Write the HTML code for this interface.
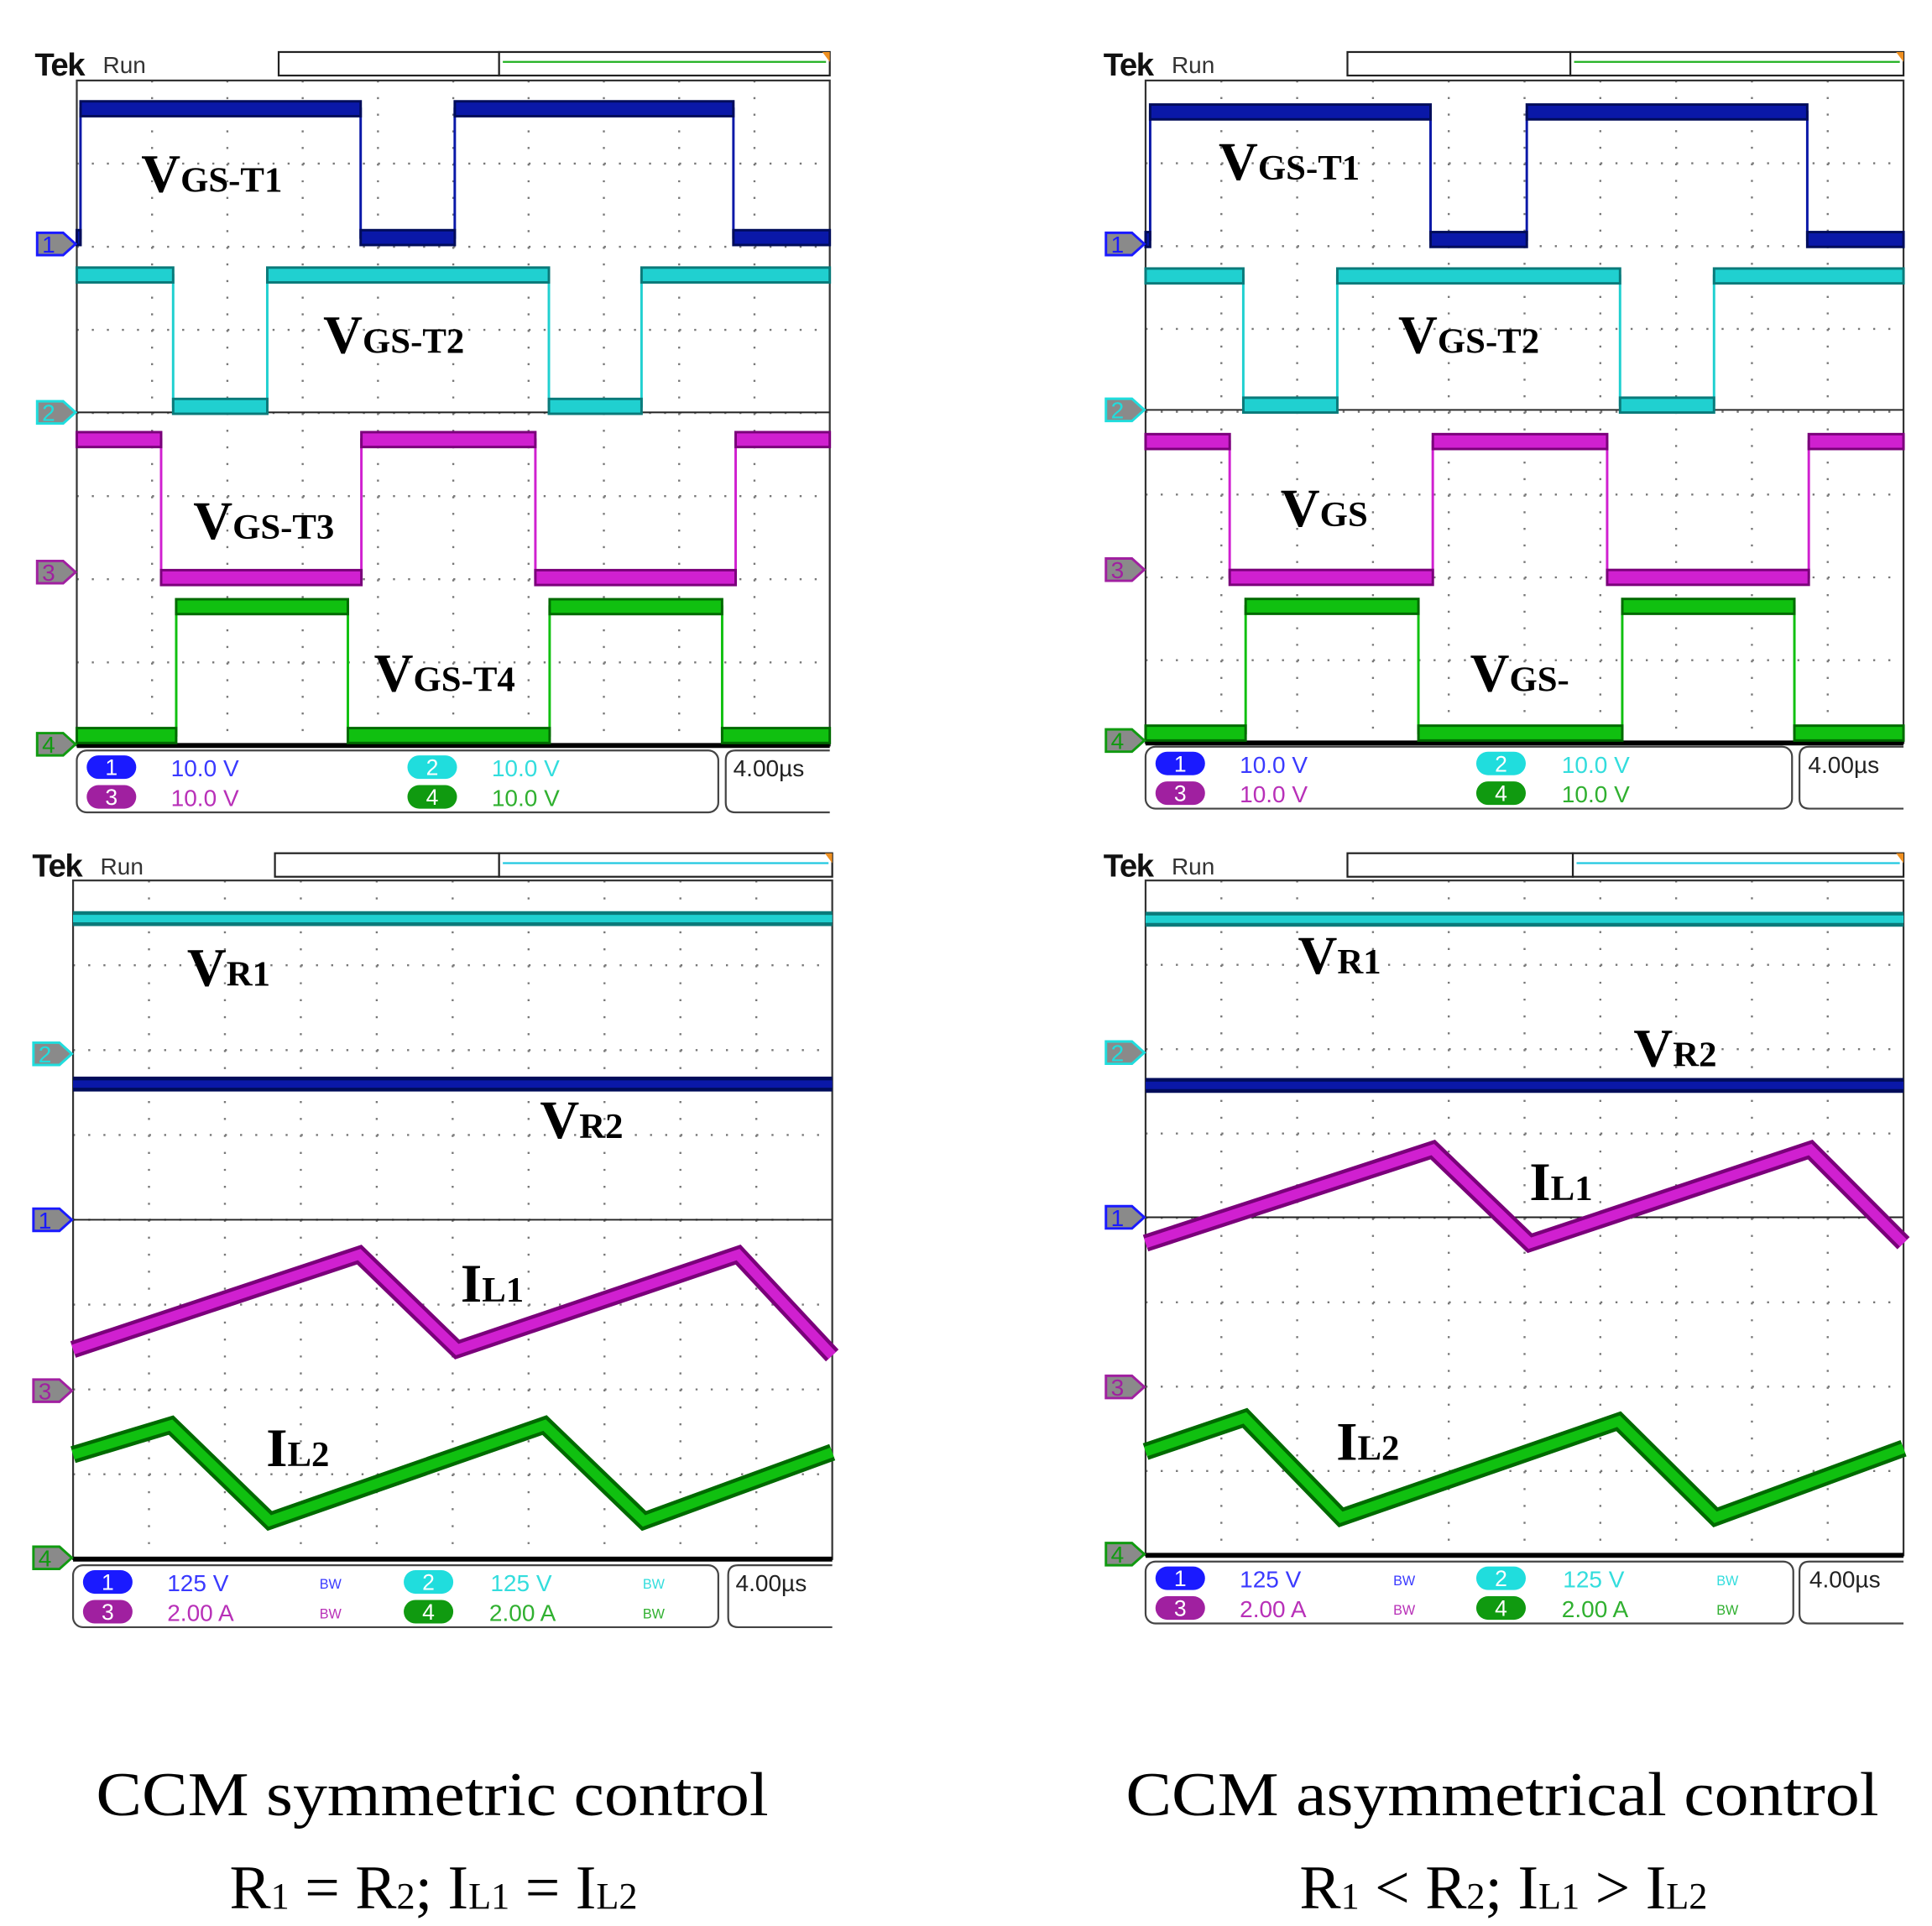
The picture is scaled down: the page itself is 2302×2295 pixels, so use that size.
<!DOCTYPE html>
<html><head><meta charset="utf-8">
<style>
html,body{margin:0;padding:0;background:#fff;}
svg{display:block;}
.tek{font-family:"Liberation Sans",sans-serif;font-weight:bold;font-size:26px;fill:#111;letter-spacing:-1px;}
.run{font-family:"Liberation Sans",sans-serif;font-size:19px;fill:#333;}
.lbl{font-family:"Liberation Serif",serif;font-weight:bold;fill:#000;}
.leg{font-family:"Liberation Sans",sans-serif;font-size:19px;}
.bw{font-family:"Liberation Sans",sans-serif;}
.cap{font-family:"Liberation Serif",serif;font-size:50px;fill:#000;}
</style></head>
<body>
<svg id="fig" width="2302" height="2295" viewBox="0 0 1560 1555.3" preserveAspectRatio="none" xmlns="http://www.w3.org/2000/svg">
<g id="layer-traces"></g>
<g>
 <text class="tek" x="28" y="61">Tek</text><text class="run" x="83" y="59">Run</text>
 <text class="lbl" x="114" y="155"><tspan font-size="44">V</tspan><tspan font-size="29">GS-T1</tspan></text>
 <text class="lbl" x="261" y="285"><tspan font-size="44">V</tspan><tspan font-size="29">GS-T2</tspan></text>
 <text class="lbl" x="156" y="435"><tspan font-size="44">V</tspan><tspan font-size="29">GS-T3</tspan></text>
 <text class="lbl" x="302" y="558"><tspan font-size="44">V</tspan><tspan font-size="29">GS-T4</tspan></text>
 <text class="tek" x="891" y="61">Tek</text><text class="run" x="946" y="59">Run</text>
 <text class="lbl" x="984" y="145"><tspan font-size="44">V</tspan><tspan font-size="29">GS-T1</tspan></text>
 <text class="lbl" x="1129" y="285"><tspan font-size="44">V</tspan><tspan font-size="29">GS-T2</tspan></text>
 <text class="lbl" x="1034" y="425"><tspan font-size="44">V</tspan><tspan font-size="29">GS</tspan></text>
 <text class="lbl" x="1187" y="558"><tspan font-size="44">V</tspan><tspan font-size="29">GS-</tspan></text>
 <text class="tek" x="26" y="708">Tek</text><text class="run" x="81" y="706">Run</text>
 <text class="lbl" x="151" y="796"><tspan font-size="44">V</tspan><tspan font-size="29">R1</tspan></text>
 <text class="lbl" x="436" y="919"><tspan font-size="44">V</tspan><tspan font-size="29">R2</tspan></text>
 <text class="lbl" x="372" y="1051"><tspan font-size="44">I</tspan><tspan font-size="29">L1</tspan></text>
 <text class="lbl" x="215" y="1184"><tspan font-size="44">I</tspan><tspan font-size="29">L2</tspan></text>
 <text class="tek" x="891" y="708">Tek</text><text class="run" x="946" y="706">Run</text>
 <text class="lbl" x="1048" y="786"><tspan font-size="44">V</tspan><tspan font-size="29">R1</tspan></text>
 <text class="lbl" x="1319" y="861"><tspan font-size="44">V</tspan><tspan font-size="29">R2</tspan></text>
 <text class="lbl" x="1235" y="969"><tspan font-size="44">I</tspan><tspan font-size="29">L1</tspan></text>
 <text class="lbl" x="1079" y="1179"><tspan font-size="44">I</tspan><tspan font-size="29">L2</tspan></text>

 <g>
  <text class="leg" x="138" y="627" fill="#3a3aff">10.0 V</text><text class="leg" x="397" y="627" fill="#33dddd">10.0 V</text>
  <text class="leg" x="138" y="651" fill="#b830b8">10.0 V</text><text class="leg" x="397" y="651" fill="#30b030">10.0 V</text>
  <text class="leg" x="592" y="627" fill="#222">4.00µs</text>
 </g>
 <g>
  <text class="leg" x="1001" y="624" fill="#3a3aff">10.0 V</text><text class="leg" x="1261" y="624" fill="#33dddd">10.0 V</text>
  <text class="leg" x="1001" y="648" fill="#b830b8">10.0 V</text><text class="leg" x="1261" y="648" fill="#30b030">10.0 V</text>
  <text class="leg" x="1460" y="624" fill="#222">4.00µs</text>
 </g>
 <g>
  <text class="leg" x="135" y="1285" fill="#3a3aff">125 V</text><text class="leg" x="396" y="1285" fill="#33dddd">125 V</text>
  <text class="leg" x="135" y="1309" fill="#b830b8">2.00 A</text><text class="leg" x="395" y="1309" fill="#30b030">2.00 A</text>
  <text class="bw" x="258" y="1283" style="font-size:11px" fill="#3a3aff">BW</text><text class="bw" x="519" y="1283" style="font-size:11px" fill="#33dddd">BW</text>
  <text class="bw" x="258" y="1307" style="font-size:11px" fill="#b830b8">BW</text><text class="bw" x="519" y="1307" style="font-size:11px" fill="#30b030">BW</text>
  <text class="leg" x="594" y="1285" fill="#222">4.00µs</text>
 </g>
 <g>
  <text class="leg" x="1001" y="1282" fill="#3a3aff">125 V</text><text class="leg" x="1262" y="1282" fill="#33dddd">125 V</text>
  <text class="leg" x="1001" y="1306" fill="#b830b8">2.00 A</text><text class="leg" x="1261" y="1306" fill="#30b030">2.00 A</text>
  <text class="bw" x="1125" y="1280" style="font-size:11px" fill="#3a3aff">BW</text><text class="bw" x="1386" y="1280" style="font-size:11px" fill="#33dddd">BW</text>
  <text class="bw" x="1125" y="1304" style="font-size:11px" fill="#b830b8">BW</text><text class="bw" x="1386" y="1304" style="font-size:11px" fill="#30b030">BW</text>
  <text class="leg" x="1461" y="1282" fill="#222">4.00µs</text>
 </g>

 <text class="cap" x="349" y="1466" text-anchor="middle" textLength="543" lengthAdjust="spacingAndGlyphs">CCM symmetric control</text>
 <text class="cap" x="350" y="1541" text-anchor="middle">R<tspan font-size="30">1</tspan> = R<tspan font-size="30">2</tspan>; I<tspan font-size="30">L1</tspan> = I<tspan font-size="30">L2</tspan></text>
 <text class="cap" x="1213" y="1466" text-anchor="middle" textLength="608" lengthAdjust="spacingAndGlyphs">CCM asymmetrical control</text>
 <text class="cap" x="1214" y="1541" text-anchor="middle">R<tspan font-size="30">1</tspan> &lt; R<tspan font-size="30">2</tspan>; I<tspan font-size="30">L1</tspan> &gt; I<tspan font-size="30">L2</tspan></text>
</g>
</svg>
<script>
const tlCh1Edges = [0.05, 3.77, 5.02, 8.72];
const tlCh1Levels = [0.34, 1.89];
const tlCh2Edges = [1.28, 2.53, 6.27, 7.50];
const tlCh2Levels = [2.34, 3.92];
const tlCh3Edges = [1.12, 3.78, 6.09, 8.75];
const tlCh3Levels = [4.32, 5.98];
const tlCh4Edges = [1.32, 3.60, 6.28, 8.57];
const tlCh4Levels = [6.33, 7.88];
const trCh1Edges = [0.06, 3.76, 5.03, 8.73];
const trCh1Levels = [0.38, 1.92];
const trCh2Edges = [1.29, 2.53, 6.26, 7.50];
const trCh2Levels = [2.36, 3.92];
const trCh3Edges = [1.11, 3.79, 6.09, 8.75];
const trCh3Levels = [4.36, 6.00];
const trCh4Edges = [1.32, 3.60, 6.29, 8.56];
const trCh4Levels = [6.35, 7.88];
const blVR1 = 0.45, blVR2 = 2.40;
const blIL1Times = [0, 3.77, 5.06, 8.76, 10];
const blIL1Vals  = [5.53, 4.41, 5.53, 4.41, 5.60];
const blIL2Times = [0, 1.29, 2.59, 6.21, 7.52, 10];
const blIL2Vals  = [6.77, 6.42, 7.55, 6.42, 7.55, 6.74];
const brVR1 = 0.46, brVR2 = 2.43;
const brIL1Times = [0, 3.79, 5.07, 8.77, 10];
const brIL1Vals  = [4.30, 3.19, 4.30, 3.19, 4.30];
const brIL2Times = [0, 1.31, 2.58, 6.24, 7.52, 10];
const brIL2Vals  = [6.77, 6.37, 7.55, 6.41, 7.55, 6.73];

const NS = 'http://www.w3.org/2000/svg';
const layer = document.getElementById('layer-traces');
function mk(tag, attrs, parent) {
  const e = document.createElementNS(NS, tag);
  for (const k in attrs) e.setAttribute(k, attrs[k]);
  (parent || layer).appendChild(e);
  return e;
}
const COL = {
  1: {dark:'#000c5a', main:'#0a18a8', fill:'#1a1aff'},
  2: {dark:'#0a7a7a', main:'#20d0d0', fill:'#20dddd'},
  3: {dark:'#7a007a', main:'#d020d0', fill:'#a020a0'},
  4: {dark:'#006a00', main:'#10c010', fill:'#109a10'}
};

function panel(P) {
  const sx = t => P.x0 + t * P.w / 10;
  const sy = v => P.y0 + v * P.h / 8;
  const g = mk('g', {});
  
  
  const tb1 = mk('rect', {x:P.barX0, y:P.barY, width:P.barX1-P.barX0, height:19, fill:'#fff', stroke:'#222', 'stroke-width':1.5}, g);
  
  
  const tb2 = mk('rect', {x:P.barX1, y:P.barY, width:P.x0+P.w-P.barX1, height:19, fill:'#fff', stroke:'#222', 'stroke-width':1.5}, g);
  
  
  mk('line', {x1:P.barX1+3, x2:P.x0+P.w-3, y1:P.barY+8, y2:P.barY+8, stroke:P.barCol, 'stroke-width':1.5}, g);
  mk('path', {d:`M${P.x0+P.w-6} ${P.barY} l6 0 l0 8 z`, fill:'#f09020'}, g);
  const grid = mk('g', {stroke:'#777', 'stroke-width':1.6, 'stroke-dasharray':'1.6 '+(P.w/50-1.6).toFixed(2)}, g);
  
  
  for (let i = 1; i < 8; i++) mk('line', {x1:P.x0, x2:P.x0+P.w, y1:sy(i), y2:sy(i)}, grid);
  const gridV = mk('g', {stroke:'#777', 'stroke-width':1.6, 'stroke-dasharray':'1.6 '+(P.h/40-1.6).toFixed(2)}, g);
  for (let i = 1; i < 10; i++) mk('line', {x1:sx(i), x2:sx(i), y1:P.y0, y2:P.y0+P.h}, gridV);
  const fr = mk('rect', {x:P.x0, y:P.y0, width:P.w, height:P.h, fill:'none', stroke:'#333', 'stroke-width':1.5}, g);
  
  
  mk('line', {x1:P.x0, x2:P.x0+P.w, y1:P.y0+P.h, y2:P.y0+P.h, stroke:'#000', 'stroke-width':4}, g);
  mk('line', {x1:P.x0, x2:P.x0+P.w, y1:P.refY, y2:P.refY, stroke:'#222', 'stroke-width':1.3}, g);
  P.traces.forEach(tr => {
    let pts;
    if (tr.type === 'square') {
      const [hi, lo] = tr.levels;
      let lvl = tr.startHigh ? hi : lo;
      pts = [[0, lvl]];
      tr.edges.forEach(t => { pts.push([t, lvl]); lvl = (lvl === hi) ? lo : hi; pts.push([t, lvl]); });
      pts.push([10, lvl]);
    } else if (tr.type === 'dc') {
      pts = [[0, tr.level], [10, tr.level]];
    } else {
      pts = tr.times.map((t, i) => [t, tr.vals[i]]);
    }
    const d = pts.map((p, i) => (i ? 'L' : 'M') + sx(p[0]).toFixed(1) + ' ' + sy(p[1]).toFixed(1)).join(' ');
    const c = COL[tr.ch];
    const wide = tr.type === 'tri' ? 14 : 12;
    const tg = mk('g', {fill:'none', 'stroke-linejoin':'miter'}, g);
    
    
    if (tr.type === 'square') {
      mk('path', {d, stroke:c.main, 'stroke-width':2}, tg);
      const [hi, lo] = tr.levels;
      let lvl = tr.startHigh ? hi : lo, t0 = 0;
      const segs = tr.edges.concat([10]);
      segs.forEach(t => {
        mk('rect', {x:sx(t0), y:sy(lvl)-wide/2, width:sx(t)-sx(t0), height:wide, fill:c.main, stroke:c.dark, 'stroke-width':2}, tg);
        lvl = (lvl === hi) ? lo : hi; t0 = t;
      });
    } else {
      mk('path', {d, stroke:c.dark, 'stroke-width':wide}, tg);
      mk('path', {d, stroke:c.main, 'stroke-width':wide-6}, tg);
    }
  });
  P.markers.forEach(m => {
    const c = COL[m.ch];
    const mg = mk('g', {}, g);
    
    
    const x = P.x0 - 32, y = m.y;
    mk('path', {d:`M${x} ${y-9} h21 l10 9 l-10 9 h-21 z`, fill:'#8a8a8a', stroke:c.fill, 'stroke-width':2}, mg);
    const t = mk('text', {x:x+4, y:y+7, 'font-family':'Liberation Sans, sans-serif', 'font-size':19, fill:c.fill}, mg);
    t.textContent = String(m.ch);
  });
  const lb = mk('rect', {x:P.x0, y:P.legY, width:P.legW, height:50, rx:8, fill:'#fff', stroke:'#444', 'stroke-width':1.5}, g);
  
  
  const tbx = mk('path', {d:`M${P.x0+P.w} ${P.legY} h-76 q-8 0 -8 8 v34 q0 8 8 8 h76`, fill:'#fff', stroke:'#444', 'stroke-width':1.5}, g);
  
  
  [[1,0,0],[2,1,0],[3,0,1],[4,1,1]].forEach(([ch, cx, cy]) => {
    const c = COL[ch];
    const px = P.x0 + 28 + cx * 259, py = P.legY + 13 + cy * 24;
    const pill = mk('rect', {x:px-20, y:py-9, width:40, height:19, rx:9.5, fill:c.fill}, g);
    
    
    const t = mk('text', {x:px, y:py+7, 'text-anchor':'middle', 'font-family':'Liberation Sans, sans-serif', 'font-size':18, fill:'#fff'}, g);
    t.textContent = String(ch);
  });
}

panel({name:'scope-gate-symmetric', x0:62, y0:65, w:608, h:537, barX0:225, barX1:403, barY:42, barCol:'#20b020', refY:333, legY:606, legW:518,
  markers:[{ch:1,y:197},{ch:2,y:333},{ch:3,y:462},{ch:4,y:601}],
  traces:[
    {name:'trace-vgs-t1', type:'square', ch:1, edges:tlCh1Edges, levels:tlCh1Levels, startHigh:false},
    {name:'trace-vgs-t2', type:'square', ch:2, edges:tlCh2Edges, levels:tlCh2Levels, startHigh:true},
    {name:'trace-vgs-t3', type:'square', ch:3, edges:tlCh3Edges, levels:tlCh3Levels, startHigh:true},
    {name:'trace-vgs-t4', type:'square', ch:4, edges:tlCh4Edges, levels:tlCh4Levels, startHigh:false}]});
panel({name:'scope-gate-asymmetric', x0:925, y0:65, w:612, h:535, barX0:1088, barX1:1268, barY:42, barCol:'#20b020', refY:331, legY:603, legW:522,
  markers:[{ch:1,y:197},{ch:2,y:331},{ch:3,y:460},{ch:4,y:598}],
  traces:[
    {name:'trace-vgs-t1', type:'square', ch:1, edges:trCh1Edges, levels:trCh1Levels, startHigh:false},
    {name:'trace-vgs-t2', type:'square', ch:2, edges:trCh2Edges, levels:trCh2Levels, startHigh:true},
    {name:'trace-vgs-t3', type:'square', ch:3, edges:trCh3Edges, levels:trCh3Levels, startHigh:true},
    {name:'trace-vgs-t4', type:'square', ch:4, edges:trCh4Edges, levels:trCh4Levels, startHigh:false}]});
panel({name:'scope-current-symmetric', x0:59, y0:711, w:613, h:548, barX0:222, barX1:403, barY:689, barCol:'#20c8e0', refY:985, legY:1264, legW:521,
  markers:[{ch:2,y:851},{ch:1,y:985},{ch:3,y:1123},{ch:4,y:1258}],
  traces:[
    {name:'trace-vr1', type:'dc', ch:2, level:blVR1},
    {name:'trace-vr2', type:'dc', ch:1, level:blVR2},
    {name:'trace-il1', type:'tri', ch:3, times:blIL1Times, vals:blIL1Vals},
    {name:'trace-il2', type:'tri', ch:4, times:blIL2Times, vals:blIL2Vals}]});
panel({name:'scope-current-asymmetric', x0:925, y0:711, w:612, h:545, barX0:1088, barX1:1270, barY:689, barCol:'#20c8e0', refY:983, legY:1261, legW:523,
  markers:[{ch:2,y:850},{ch:1,y:983},{ch:3,y:1120},{ch:4,y:1255}],
  traces:[
    {name:'trace-vr1', type:'dc', ch:2, level:brVR1},
    {name:'trace-vr2', type:'dc', ch:1, level:brVR2},
    {name:'trace-il1', type:'tri', ch:3, times:brIL1Times, vals:brIL1Vals},
    {name:'trace-il2', type:'tri', ch:4, times:brIL2Times, vals:brIL2Vals}]});
</script>
</body></html>
